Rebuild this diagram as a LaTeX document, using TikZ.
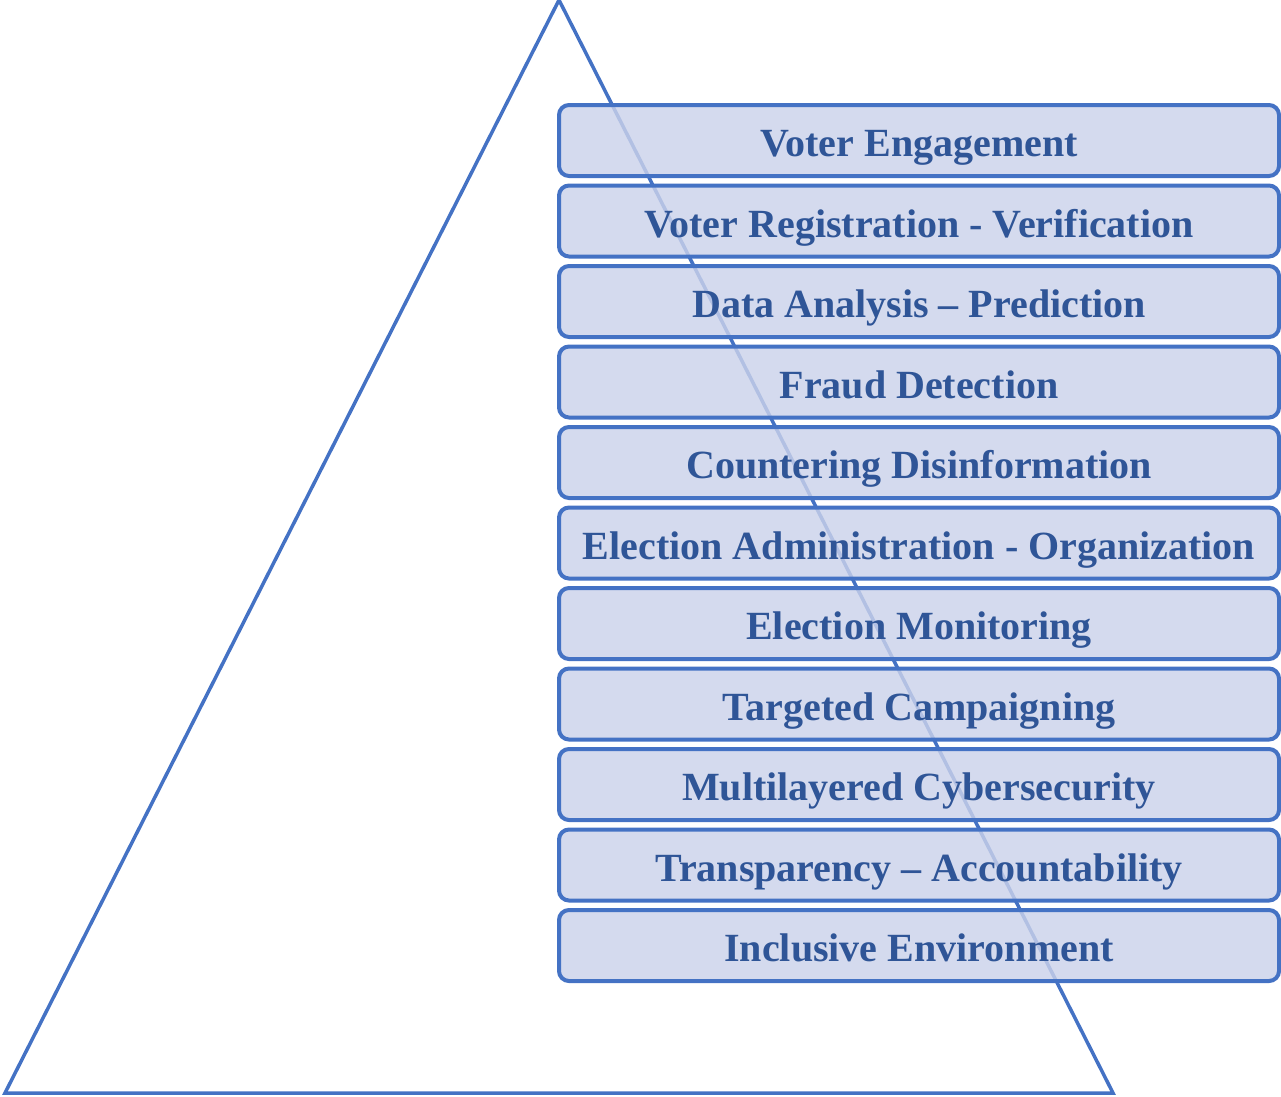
\documentclass[tikz,border=0pt]{standalone}
\usepackage{fontspec}
\setmainfont{Liberation Serif}
\usepackage{xcolor}
\usetikzlibrary{positioning}
\definecolor{frame}{HTML}{4472C4}
\definecolor{layerbg}{HTML}{CBD2EA}
\definecolor{labeltext}{HTML}{2F5597}
\tikzset{
  pyramid/.style={draw=frame, line width=3.5pt, line join=miter},
  layer/.style={draw=frame, line width=4pt, fill=layerbg, fill opacity=0.82,
    text opacity=1, rounded corners=10pt, minimum width=720pt,
    minimum height=71pt, inner sep=0pt, outer sep=0pt, text=labeltext,
    text height=32pt, text depth=0pt,
    font=\fontsize{40}{44}\selectfont\bfseries}
}

\begin{document}
\begin{tikzpicture}[x=1pt, y=-1pt, node distance=9.5pt]
  \useasboundingbox (0,0) rectangle (1281,1096);

  % outline of the pyramid
  \coordinate (apex) at (559,0);
  \coordinate (baseL) at (5,1093);
  \coordinate (baseR) at (1113,1093);
  \draw[pyramid] (apex) -- (baseR) -- (baseL) -- cycle;

  % stacked layers
  \node[layer] (engage) at (919,140.5) {Voter Engagement};
  \node[layer, below=of engage] (register) {Voter Registration - Verification};
  \node[layer, below=of register] (analysis) {Data Analysis -- Prediction};
  \node[layer, below=of analysis] (fraud) {Fraud Detection};
  \node[layer, below=of fraud] (counter) {Countering Disinformation};
  \node[layer, below=of counter] (admin) {Election Administration - Organization};
  \node[layer, below=of admin] (monitor) {Election Monitoring};
  \node[layer, below=of monitor] (campaign) {Targeted Campaigning};
  \node[layer, below=of campaign] (cyber) {Multilayered Cybersecurity};
  \node[layer, below=of cyber] (transp) {Transparency -- Accountability};
  \node[layer, below=of transp] (inclusive) {Inclusive Environment};
\end{tikzpicture}
\end{document}
